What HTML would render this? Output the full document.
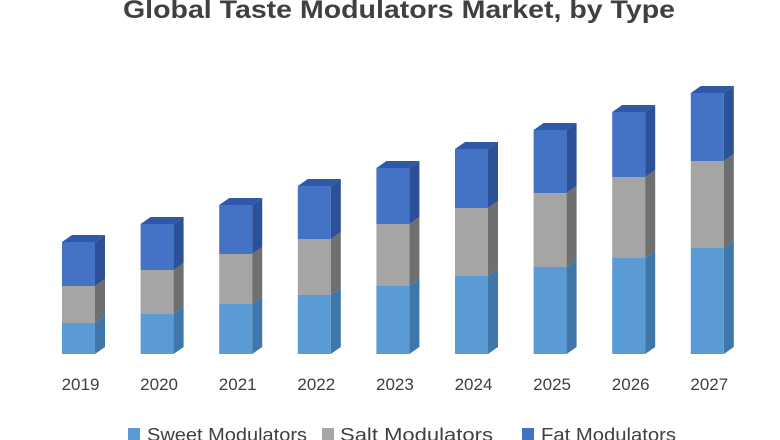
<!DOCTYPE html>
<html><head><meta charset="utf-8"><style>
html,body{margin:0;padding:0;background:#fff;}
svg{display:block;font-family:"Liberation Sans",sans-serif;}
</style></head><body>
<svg id="chart" width="780" height="440" viewBox="0 0 780 440">
<text x="123" y="18" textLength="552" lengthAdjust="spacingAndGlyphs" font-size="25" font-weight="bold" fill="#404040">Global Taste Modulators Market, by Type</text>
<g id="bars"></g>
<g id="xaxis"></g>
<g>
<g><rect x="128" y="428" width="12" height="12" fill="#5b9bd5"/><text x="147" y="441" font-size="18" textLength="160" lengthAdjust="spacingAndGlyphs" fill="#404040">Sweet Modulators</text></g>
<g><rect x="322" y="428" width="12" height="12" fill="#a5a5a5"/><text x="340" y="441" font-size="18" textLength="153" lengthAdjust="spacingAndGlyphs" fill="#404040">Salt Modulators</text></g>
<g><rect x="522" y="428" width="12" height="12" fill="#4472c4"/><text x="541" y="441" font-size="18" textLength="135" lengthAdjust="spacingAndGlyphs" fill="#404040">Fat Modulators</text></g>
</g>
</svg>
<script>
const categories = ["2019","2020","2021","2022","2023","2024","2025","2026","2027"];
const sweetValues = [31,40,50,59,68,78,87,96,106];
const saltValues = [37,44,50,56,62,68,74,81,87];
const fatValues = [44,46,49,53,56,59,63,65,68];

const NS="http://www.w3.org/2000/svg";
const baseY=354, pxPerUnit=1.0, firstX=62, stepX=78.6, barW=33, dx=10, dy=7;
const xScale=i=>firstX+i*stepX;
const yScale=v=>baseY-v*pxPerUnit;
const series=[
 {name:"sweet",vals:sweetValues,front:"#5b9bd5",side:"#3f77ab",top:"#7eb2e0"},
 {name:"salt",vals:saltValues,front:"#a5a5a5",side:"#6f6f6f",top:"#bdbdbd"},
 {name:"fat",vals:fatValues,front:"#4472c4",side:"#2c5196",top:"#2f59a8"}
];
const bars=document.getElementById('bars');
function poly(pts,fill,name){
 const p=document.createElementNS(NS,'polygon');
 p.setAttribute('points',pts.map(a=>a.join(',')).join(' '));
 p.setAttribute('fill',fill);
 
 
 return p;
}
categories.forEach((c,i)=>{
 const g=document.createElementNS(NS,'g');
 
 
 const x=xScale(i);
 let cum=0;
 series.forEach((s,k)=>{
  const y0=yScale(cum), y1=yScale(cum+s.vals[i]);
  cum+=s.vals[i];
  g.appendChild(poly([[x,y1],[x+barW,y1],[x+barW,y0],[x,y0]],s.front,'bar-'+s.name+'-'+c));
  g.appendChild(poly([[x+barW,y1],[x+barW+dx,y1-dy],[x+barW+dx,y0-dy],[x+barW,y0]],s.side,'bar-side-'+s.name+'-'+c));
  if(k===series.length-1){
   g.appendChild(poly([[x,y1],[x+dx,y1-dy],[x+barW+dx,y1-dy],[x+barW,y1]],s.top,'bar-top-'+c));
  }
 });
 bars.appendChild(g);
 const t=document.createElementNS(NS,'text');
 
 
 t.setAttribute('x',x+barW/2+2);t.setAttribute('y',390);
 t.setAttribute('text-anchor','middle');t.setAttribute('font-size','17');t.setAttribute('fill','#404040');
 t.textContent=c;
 document.getElementById('xaxis').appendChild(t);
});
</script>
</body></html>
